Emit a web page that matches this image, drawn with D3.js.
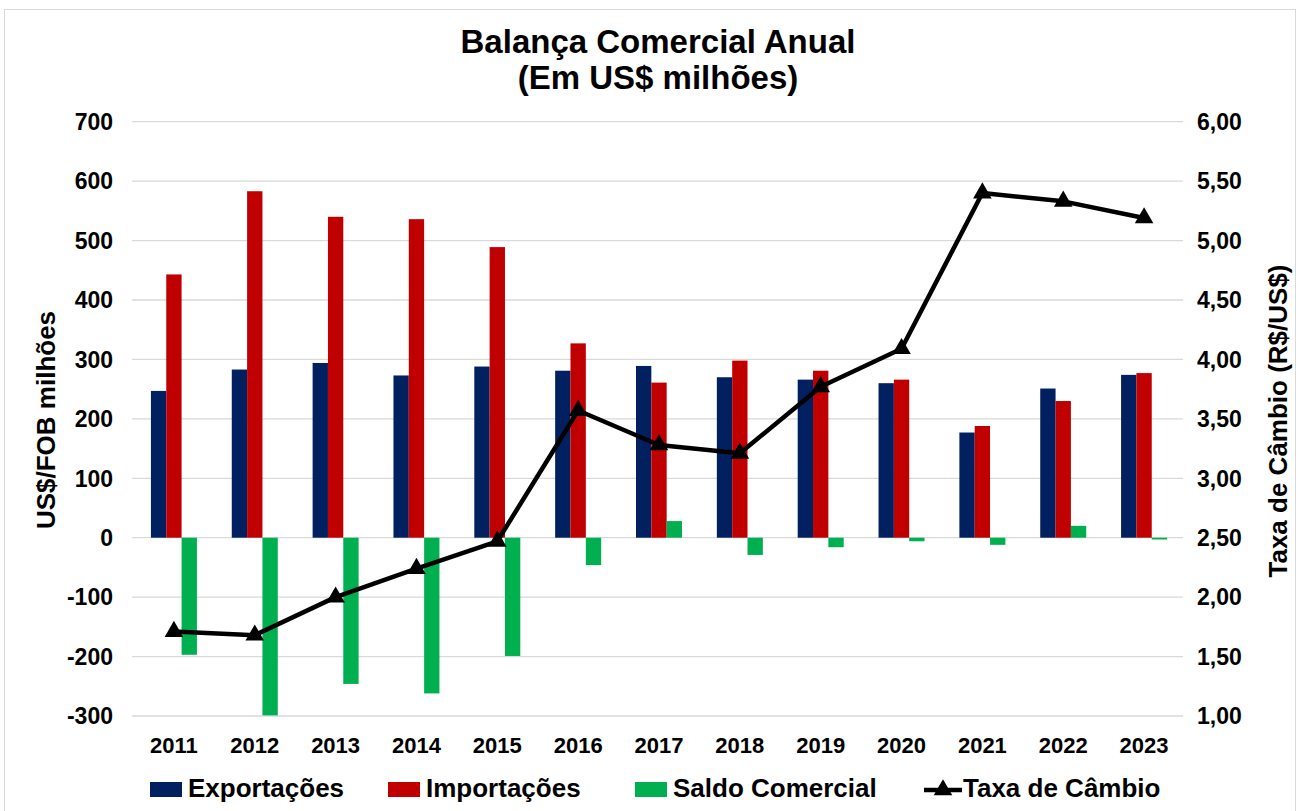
<!DOCTYPE html>
<html>
<head>
<meta charset="utf-8">
<script src="https://cdn.jsdelivr.net/npm/d3@7"></script>
<style>
  body { margin: 0; background: #fff; }
  svg text { font-family: "Liberation Sans", Arial, sans-serif; font-weight: bold; fill: #000; }
</style>
</head>
<body>
<svg id="chart" width="1296" height="811"></svg>
<script>
const years = ["2011","2012","2013","2014","2015","2016","2017","2018","2019","2020","2021","2022","2023"];
const exportacoes = [247, 283, 294, 273, 288, 281, 289, 270, 266, 260, 177, 251, 274];
const importacoes = [443, 583, 540, 536, 489, 327, 261, 298, 281, 266, 188, 230, 277];
const saldo = [-197, -299, -246, -262, -199, -46, 28, -29, -16, -6, -12, 20, -3];
const taxaCambio = [1.71, 1.68, 2.00, 2.24, 2.47, 3.57, 3.28, 3.21, 3.77, 4.09, 5.40, 5.33, 5.19];
const leftTicks = [-300, -200, -100, 0, 100, 200, 300, 400, 500, 600, 700];
const rightTicks = [1.0, 1.5, 2.0, 2.5, 3.0, 3.5, 4.0, 4.5, 5.0, 5.5, 6.0];
const seriesNames = ["Exportações", "Importações", "Saldo Comercial", "Taxa de Câmbio"];
const colors = ["#002060", "#C00000", "#00B050", "#000000"];

const svg = d3.select("#chart");
const W = 1296, H = 811;
const plot = { left: 132, right: 1183, top: 121.7, bottom: 716 };

// chart border
svg.append("rect").attr("x", 4.5).attr("y", 9.5).attr("width", W - 5).attr("height", H - 5)
  .attr("fill", "none").attr("stroke", "#d9d9d9").attr("stroke-width", 1);

const x = d3.scaleBand().domain(years).range([plot.left, plot.right]).paddingInner(0).paddingOuter(0);
const yL = d3.scaleLinear().domain([-300, 700]).range([plot.bottom, plot.top]);
const yR = d3.scaleLinear().domain([1, 6]).range([plot.bottom, plot.top]);

// gridlines
svg.append("g").selectAll("line").data(leftTicks).join("line")
  .attr("x1", plot.left).attr("x2", plot.right)
  .attr("y1", d => yL(d)).attr("y2", d => yL(d))
  .attr("stroke", "#d9d9d9").attr("stroke-width", 1.3);

// bars
const sub = d3.scaleBand().domain([0, 1, 2]).range([0, 46]);
const bw = sub.bandwidth();
const groupOffset = (x.bandwidth() - 46) / 2 + 1.5;
const barSeries = [exportacoes, importacoes, saldo];
barSeries.forEach((vals, si) => {
  svg.append("g").selectAll("rect").data(vals).join("rect")
    .attr("x", (d, i) => x(years[i]) + groupOffset + sub(si))
    .attr("width", bw)
    .attr("y", d => Math.min(yL(d), yL(0)))
    .attr("height", d => Math.abs(yL(d) - yL(0)))
    .attr("fill", colors[si]);
});

// line
const cx = (i) => x(years[i]) + x.bandwidth() / 2 + 1.5;
const line = d3.line().x((d, i) => cx(i)).y(d => yR(d));
svg.append("path").datum(taxaCambio).attr("d", line)
  .attr("fill", "none").attr("stroke", "#000").attr("stroke-width", 4.5).attr("stroke-linejoin", "round");
const tri = d3.symbol().type(d3.symbolTriangle).size(150);
svg.append("g").selectAll("path").data(taxaCambio).join("path")
  .attr("d", tri)
  .attr("transform", (d, i) => `translate(${cx(i)},${yR(d)})`)
  .attr("fill", "#000");

// left axis labels
svg.append("g").selectAll("text").data(leftTicks).join("text")
  .attr("x", 113).attr("y", d => yL(d)).attr("dy", "0.36em")
  .attr("text-anchor", "end").attr("font-size", 23)
  .text(d => d);

// right axis labels
const fmtR = d => d.toFixed(2).replace(".", ",");
svg.append("g").selectAll("text").data(rightTicks).join("text")
  .attr("x", 1197).attr("y", d => yR(d)).attr("dy", "0.36em")
  .attr("text-anchor", "start").attr("font-size", 23)
  .text(fmtR);

// x labels
svg.append("g").selectAll("text").data(years).join("text")
  .attr("x", (d, i) => cx(i)).attr("y", 753)
  .attr("text-anchor", "middle").attr("font-size", 22)
  .text(d => d);

// axis titles
svg.append("text").attr("transform", "translate(55,420) rotate(-90)")
  .attr("text-anchor", "middle").attr("font-size", 26).text("US$/FOB milhões");
svg.append("text").attr("transform", "translate(1287,421) rotate(-90)")
  .attr("text-anchor", "middle").attr("font-size", 26).text("Taxa de Câmbio (R$/US$)");

// title
svg.append("text").attr("x", 658).attr("y", 53).attr("text-anchor", "middle")
  .attr("font-size", 33).text("Balança Comercial Anual");
svg.append("text").attr("x", 658).attr("y", 89).attr("text-anchor", "middle")
  .attr("font-size", 33).text("(Em US$ milhões)");

// legend
const legendX = [150, 388, 635, 922];
const lg = svg.append("g");
seriesNames.forEach((name, i) => {
  const gx = legendX[i], gy = 790;
  if (i < 3) {
    lg.append("rect").attr("x", gx).attr("y", gy - 8).attr("width", 32).attr("height", 15).attr("fill", colors[i]);
    lg.append("text").attr("x", gx + 38).attr("y", 797).attr("font-size", 26).text(name);
  } else {
    lg.append("line").attr("x1", gx + 2).attr("x2", gx + 40).attr("y1", gy).attr("y2", gy)
      .attr("stroke", "#000").attr("stroke-width", 4.5);
    lg.append("path").attr("d", d3.symbol().type(d3.symbolTriangle).size(150))
      .attr("transform", `translate(${gx + 21},${gy})`).attr("fill", "#000");
    lg.append("text").attr("x", gx + 41).attr("y", 797).attr("font-size", 26).text(name);
  }
});
</script>
</body>
</html>
